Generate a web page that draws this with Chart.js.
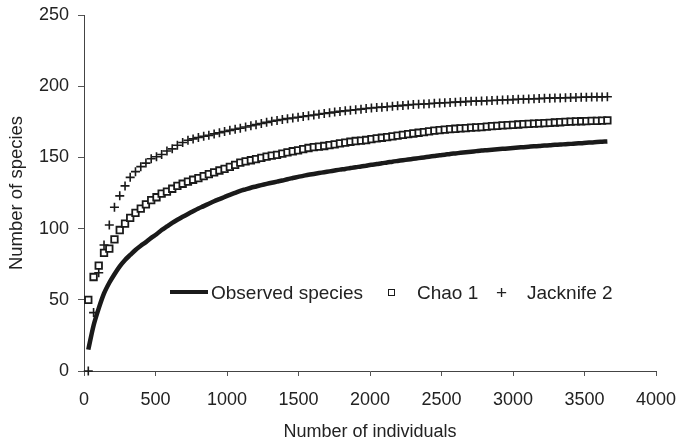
<!DOCTYPE html>
<html>
<head>
<meta charset="utf-8">
<script src="https://cdn.jsdelivr.net/npm/chart.js@4.4.1/dist/chart.umd.min.js"></script>
<style>
  html, body { margin: 0; padding: 0; background: #fff; }
  #wrap { position: relative; width: 681px; height: 447px; }
  #legend { position: absolute; left: 0; top: 0; width: 681px; height: 447px; pointer-events: none;
            font-family: "Liberation Sans", Arial, sans-serif; font-size: 19px; color: #222; }
  .lg { position: absolute; white-space: nowrap; line-height: 20px; }
</style>
</head>
<body>
<div id="wrap">
  <canvas id="c" width="681" height="447"></canvas>
  <div id="legend">
    <div style="position:absolute;left:170px;top:290px;width:38px;height:4px;background:#1a1a1a;"></div>
    <div class="lg" style="left:211px;top:283px;">Observed species</div>
    <div style="position:absolute;left:388px;top:289px;width:5px;height:5px;border:1.5px solid #1a1a1a;background:#fff;"></div>
    <div class="lg" style="left:417px;top:283px;">Chao 1</div>
    <div class="lg" style="left:496px;top:283px;">+</div>
    <div class="lg" style="left:527px;top:283px;">Jacknife 2</div>
  </div>
</div>
<script>
const xIndividuals = [30, 67, 103, 140, 177, 213, 250, 287, 323, 360, 397, 433, 470, 507, 543, 580, 617, 653, 690, 727,
  763, 800, 837, 873, 910, 947, 983, 1020, 1057, 1093, 1130, 1167, 1203, 1240, 1277, 1313, 1350, 1387, 1423, 1460,
  1497, 1533, 1570, 1607, 1643, 1680, 1717, 1753, 1790, 1827, 1863, 1900, 1937, 1973, 2010, 2047, 2083, 2120, 2157, 2193,
  2230, 2267, 2303, 2340, 2377, 2413, 2450, 2487, 2523, 2560, 2597, 2633, 2670, 2707, 2743, 2780, 2817, 2853, 2890, 2927,
  2963, 3000, 3037, 3073, 3110, 3147, 3183, 3220, 3257, 3293, 3330, 3367, 3403, 3440, 3477, 3513, 3550, 3587, 3623, 3660];

const observedSpecies = [15, 32, 44, 54.5, 62, 68, 73.5, 78, 81.5, 85, 88, 90.5, 93.5, 96, 99, 101.5, 104, 106.2, 108.3, 110.3,
  112.2, 114.1, 115.8, 117.5, 119.2, 120.7, 122.2, 123.7, 125.1, 126.5, 127.6, 128.7, 129.6, 130.5, 131.4, 132.2, 133, 133.8, 134.7, 135.5,
  136.3, 137, 137.8, 138.4, 139, 139.6, 140.2, 140.8, 141.4, 141.9, 142.5, 143.1, 143.6, 144.2, 144.8, 145.3, 145.9, 146.4, 147, 147.5,
  148, 148.5, 149, 149.5, 150, 150.5, 151, 151.5, 151.9, 152.4, 152.8, 153.2, 153.6, 154, 154.4, 154.8, 155.1, 155.4, 155.7, 156,
  156.3, 156.6, 156.9, 157.2, 157.5, 157.8, 158, 158.3, 158.5, 158.8, 159, 159.3, 159.5, 159.8, 160, 160.3, 160.5, 160.8, 161, 161.2];

const chao1 = [50, 66, 74, 83, 86, 92.5, 99, 103.5, 107.5, 111, 114, 117, 120, 122, 124.5, 126, 128, 130, 131.5, 133,
  134.3, 135.5, 136.8, 138.3, 139.5, 140.8, 142, 143.3, 144.8, 146.3, 147.2, 148, 148.8, 149.7, 150.5, 151.2, 151.8, 152.7, 153.5, 154.3,
  155, 155.8, 156.6, 157.2, 157.6, 158, 158.6, 159.2, 159.8, 160.4, 161, 161.5, 161.8, 162.2, 162.8, 163.4, 163.8, 164.3, 164.8, 165.3,
  165.8, 166.3, 166.8, 167.3, 167.8, 168.3, 168.8, 169.2, 169.5, 169.8, 170.1, 170.4, 170.6, 170.9, 171.1, 171.3, 171.6, 171.9, 172.2, 172.5,
  172.7, 172.9, 173.1, 173.3, 173.5, 173.7, 173.9, 174.1, 174.3, 174.5, 174.7, 174.9, 175.1, 175.3, 175.4, 175.5, 175.6, 175.7, 175.8, 176];

const jacknife2 = [0, 41, 69, 88.5, 102.5, 115, 123, 130, 136, 140, 143.5, 146, 149, 150.5, 152, 154.5, 156, 158.5, 160.5, 162,
  163, 164, 164.8, 165.5, 166.5, 167.3, 168.2, 169, 169.8, 170.5, 171.3, 172.2, 173, 173.8, 174.6, 175.4, 176, 176.6, 177.2, 177.7,
  178.2, 178.7, 179.3, 179.8, 180.3, 180.8, 181.3, 181.8, 182.3, 182.7, 183.1, 183.5, 183.9, 184.3, 184.7, 185, 185.3, 185.6, 185.9, 186.2,
  186.5, 186.8, 187.1, 187.3, 187.5, 187.7, 188, 188.2, 188.4, 188.6, 188.8, 189, 189.2, 189.4, 189.5, 189.6, 189.8, 190, 190.1, 190.3,
  190.5, 190.6, 190.8, 190.9, 191, 191.2, 191.3, 191.5, 191.6, 191.7, 191.8, 191.9, 192, 192.1, 192.2, 192.3, 192.4, 192.5, 192.5, 192.6];

const xTitle = "Number of individuals";
const yTitle = "Number of species";

const toPts = ys => ys.map((y, i) => ({ x: xIndividuals[i], y: y }));
const FONT = '"Liberation Sans", Arial, sans-serif';
const INK = '#1a1a1a';

new Chart(document.getElementById('c'), {
  type: 'scatter',
  data: {
    datasets: [
      { label: 'Observed species', data: toPts(observedSpecies), showLine: true, borderColor: INK,
        borderWidth: 4.5, pointRadius: 0, tension: 0.3, fill: false, clip: false },
      { label: 'Chao 1', data: toPts(chao1), showLine: false, pointStyle: 'rect', pointRadius: 4.6,
        borderColor: INK, backgroundColor: '#fff', borderWidth: 1.8, clip: false },
      { label: 'Jacknife 2', data: toPts(jacknife2), showLine: false, pointStyle: 'cross', pointRadius: 4.5,
        borderColor: INK, borderWidth: 1.6, clip: false }
    ]
  },
  options: {
    responsive: false,
    animation: false,
    layout: { padding: { left: 0, right: 25, top: 15, bottom: 0 } },
    plugins: { legend: { display: false }, tooltip: { enabled: false } },
    scales: {
      x: {
        type: 'linear', min: 0, max: 4000,
        afterFit: s => { s.height = 76; s.paddingLeft = 0; s.paddingRight = 0; },
        ticks: { stepSize: 500, color: '#222', font: { family: FONT, size: 18 }, padding: 13, maxRotation: 0,
                 callback: v => String(v) },
        grid: { display: true, drawOnChartArea: false, drawTicks: true, tickLength: 5, color: '#555' },
        border: { display: true, color: '#444', width: 1 },
        title: { display: true, text: xTitle, color: '#222', font: { family: FONT, size: 18 }, padding: { top: 4, bottom: 4 } }
      },
      y: {
        type: 'linear', min: 0, max: 250,
        afterFit: s => { s.width = 84; s.paddingTop = 0; s.paddingBottom = 0; },
        ticks: { stepSize: 50, color: '#222', font: { family: FONT, size: 18 }, padding: 9, callback: v => String(v) },
        grid: { display: true, drawOnChartArea: false, drawTicks: true, tickLength: 6, color: '#555' },
        border: { display: true, color: '#444', width: 1 },
        title: { display: true, text: yTitle, color: '#222', font: { family: FONT, size: 18.5 }, padding: { top: 6, bottom: 4 } }
      }
    }
  }
});
</script>
</body>
</html>
